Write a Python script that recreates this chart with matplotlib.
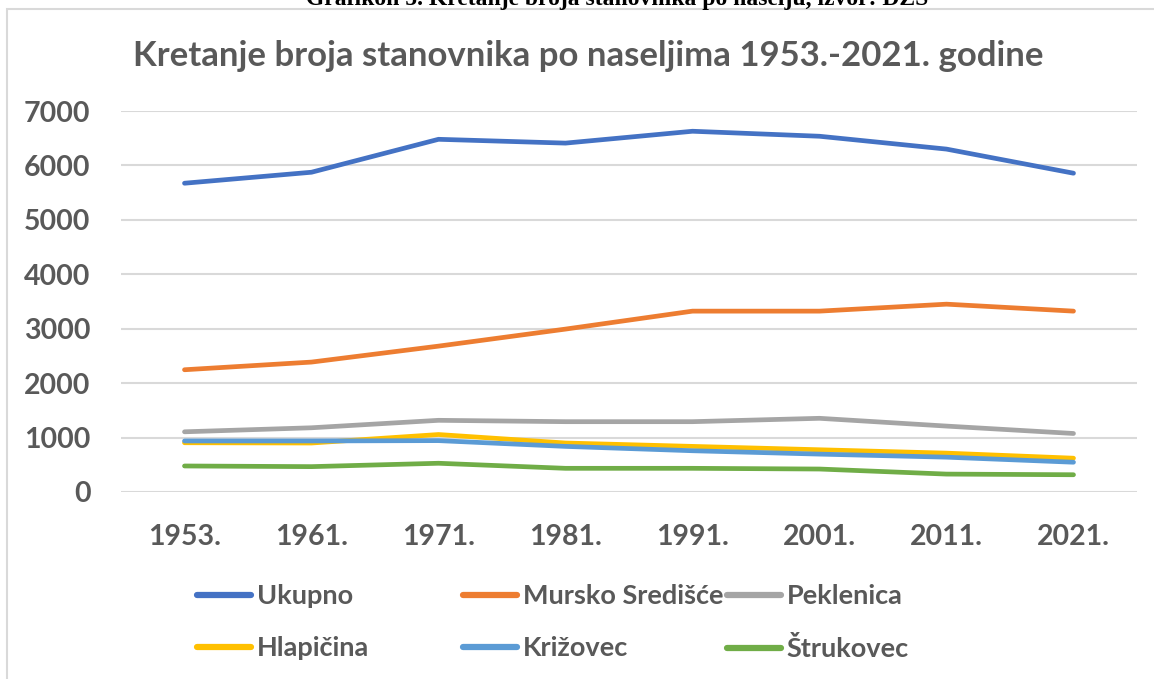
import matplotlib
matplotlib.use("Agg")
import matplotlib.pyplot as plt
from matplotlib.patches import Rectangle

years = ["1953.", "1961.", "1971.", "1981.", "1991.", "2001.", "2011.", "2021."]
ukupno = [5673, 5875, 6480, 6410, 6628, 6536, 6300, 5857]
mursko = [2246, 2387, 2680, 2993, 3323, 3323, 3451, 3323]
peklenica = [1106, 1180, 1317, 1292, 1292, 1354, 1211, 1075]
hlapicina = [905, 900, 1056, 900, 838, 776, 714, 621]
krizovec = [938, 938, 944, 838, 758, 696, 640, 547]
strukovec = [478, 466, 528, 435, 435, 422, 329, 317]

names = ["Ukupno", "Mursko Središće", "Peklenica", "Hlapičina", "Križovec", "Štrukovec"]
series = [ukupno, mursko, peklenica, hlapicina, krizovec, strukovec]
colors = ["#4472C4", "#ED7D31", "#A5A5A5", "#FFC000", "#5B9BD5", "#70AD47"]

TXT = "#595959"
FONT = "Lato"

W, H = 1154, 679
fig = plt.figure(figsize=(W / 100, H / 100), dpi=100)

# outer chart frame
fig.patches.append(Rectangle((7 / W, -0.05), 1.2, 1 - 9 / H + 0.05, transform=fig.transFigure,
                             fill=False, edgecolor="#D9D9D9", linewidth=1.5))
# caption above chart (cut off at the top edge, as in the source)
fig.text(617 / W, 1 - 5 / H, "Grafikon 5. Kretanje broja stanovnika po naselju, izvor: DZS",
         family="Liberation Serif", fontweight="bold", fontsize=17, color="black",
         ha="center", va="baseline")

ax = fig.add_axes([121 / W, 1 - 492 / H, (1137 - 121) / W, (492 - 111) / H])
x = list(range(len(years)))
handles = []
for name, vals, c in zip(names, series, colors):
    (h,) = ax.plot(x, vals, color=c, linewidth=3.4, solid_capstyle="round",
                   solid_joinstyle="round", label=name)
    handles.append(h)

ax.set_xlim(-0.5, len(years) - 0.5)
ax.set_ylim(0, 7000)
ax.set_yticks(range(0, 7001, 1000))
ax.set_xticks(x)
ax.set_xticklabels(years)
ax.grid(axis="y", color="#D9D9D9", linewidth=1.5)
ax.set_axisbelow(True)
for s in ax.spines.values():
    s.set_visible(False)
ax.tick_params(axis="both", length=0, labelsize=20.5, labelcolor=TXT)
ax.tick_params(axis="y", pad=22)
ax.tick_params(axis="x", pad=23)
for lab in ax.get_xticklabels() + ax.get_yticklabels():
    lab.set_family(FONT)
    lab.set_fontweight("bold")

fig.text(588 / W, 1 - 56 / H, "Kretanje broja stanovnika po naseljima 1953.-2021. godine",
         family=FONT, fontweight="bold", fontsize=25, color=TXT, ha="center", va="center")

col_x = [197, 463, 727]
for i in range(3):
    leg = fig.legend(handles=[handles[i], handles[i + 3]], loc="upper left",
                     bbox_to_anchor=(col_x[i] / W, 1 - 584 / H), frameon=False,
                     prop={"family": FONT, "weight": "bold", "size": 19.5},
                     labelcolor=TXT, handlelength=2.0, handletextpad=0.2,
                     labelspacing=1.05, borderpad=0, borderaxespad=0)
    for lh in leg.get_lines():
        lh.set_linewidth(4.5)
        lh.set_solid_capstyle("round")

fig.savefig("out.png", dpi=100)
